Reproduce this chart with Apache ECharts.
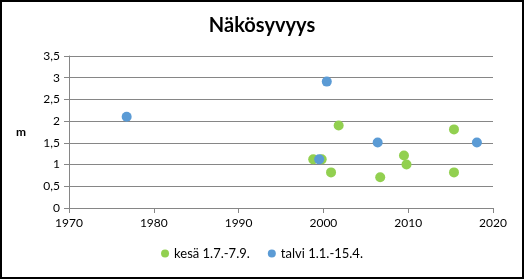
<!DOCTYPE html>
<html><head><meta charset="utf-8">
<script src="https://cdn.jsdelivr.net/npm/echarts@6/dist/echarts.min.js"></script>
<style>html,body{margin:0;padding:0;background:#fff}#c{width:524px;height:279px;box-sizing:border-box;border:2px solid #000}</style>
</head><body><div id="c"></div>
<script>
const titleText = 'Näkösyvyys';
const yName = 'm';
const summerName = 'kesä 1.7.-7.9.';
const winterName = 'talvi 1.1.-15.4.';
const summerYears = [1998.8, 1999.8, 2000.9, 2001.8, 2006.7, 2009.5, 2009.8, 2015.4, 2015.4];
const summerValues = [1.12, 1.12, 0.82, 1.9, 0.71, 1.21, 1.0, 1.81, 0.82];
const winterYears = [1976.8, 2000.4, 1999.5, 2006.4, 2018.1];
const winterValues = [2.1, 2.91, 1.12, 1.51, 1.51];

const chart = echarts.init(document.getElementById('c'), null, {renderer:'canvas'});
const font = 'Lato, "Open Sans", sans-serif';
chart.setOption({
  animation:false,
  title:{text:titleText,left:'center',top:9,textStyle:{fontFamily:font,fontSize:20,fontWeight:'bold',color:'#000'}},
  grid:{left:67,right:29,top:54,bottom:69},
  legend:{bottom:12,left:'center',itemWidth:8,itemHeight:8,itemGap:18,icon:'circle',
    textStyle:{fontFamily:font,fontSize:13,color:'#000'},
    data:[summerName,winterName]},
  xAxis:{type:'value',min:1970,max:2020,interval:10,
    axisLine:{show:true,lineStyle:{color:'#868686'}},
    axisTick:{show:true,length:5,lineStyle:{color:'#868686'}},
    splitLine:{show:false},
    axisLabel:{fontFamily:font,fontSize:12,color:'#000',margin:9,formatter:v=>String(v)}},
  yAxis:{type:'value',min:0,max:3.5,interval:0.5,name:yName,nameLocation:'middle',nameRotate:0,nameGap:43,
    nameTextStyle:{fontFamily:font,fontSize:12,fontWeight:'bold',color:'#000'},
    axisLine:{show:true,lineStyle:{color:'#868686'}},
    axisTick:{show:true,length:5,lineStyle:{color:'#868686'}},
    splitLine:{lineStyle:{color:'#868686'}},
    axisLabel:{fontFamily:font,fontSize:12,color:'#000',margin:9,formatter:v=>String(v).replace('.',',')}},
  series:[
    {name:summerName,type:'scatter',symbolSize:10,itemStyle:{color:'#92D050',opacity:1},
      data:summerYears.map((x,i)=>[x,summerValues[i]])},
    {name:winterName,type:'scatter',symbolSize:10,itemStyle:{color:'#5B9BD5',opacity:1},
      data:winterYears.map((x,i)=>[x,winterValues[i]])}
  ]
});
</script></body></html>
